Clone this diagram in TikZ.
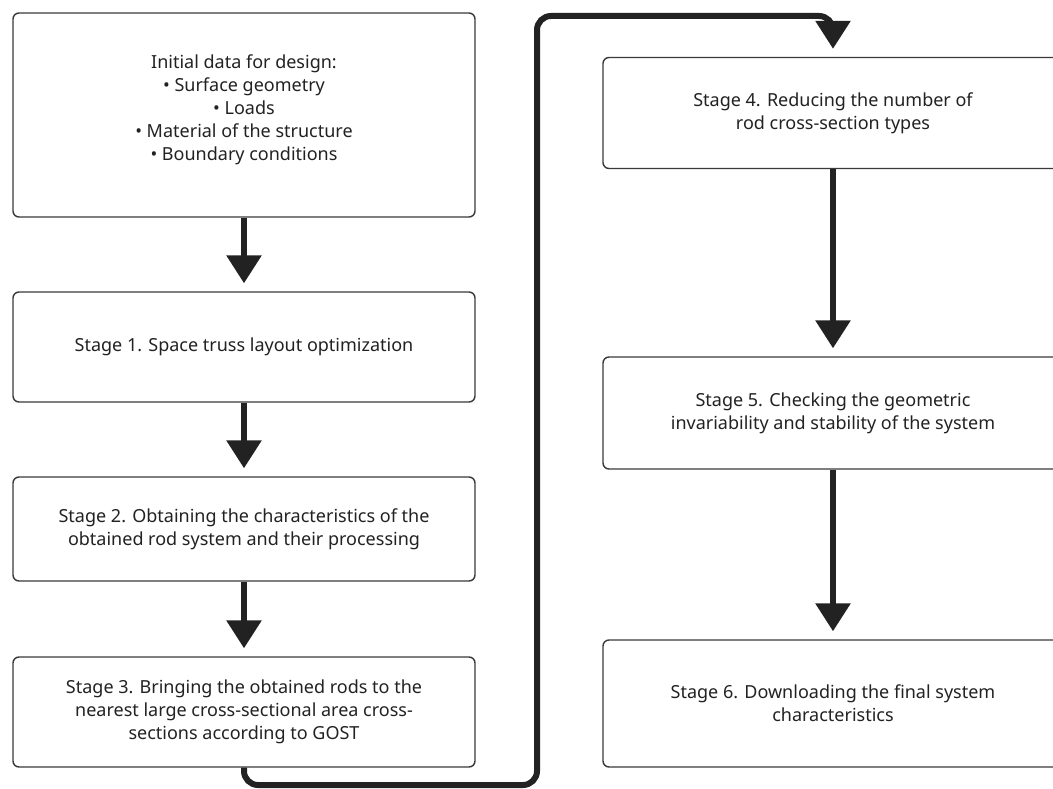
\documentclass[tikz,border=0pt]{standalone}
\usepackage{fontspec}
\setmainfont{Noto Sans}
\usetikzlibrary{arrows.meta}
\definecolor{ink}{HTML}{222222}
\definecolor{edge}{HTML}{3A3A3A}
\tikzset{
  box/.style={draw=edge, line width=1.4pt, rounded corners=6pt, fill=white,
    minimum width=462pt, align=center, text=ink, font=\fontsize{18}{23}\selectfont, inner sep=0pt},
  flow/.style={draw=ink, line width=6pt, -{Triangle[width=34pt,length=28pt]}, shorten >=8pt},
}
\begin{document}
\begin{tikzpicture}[x=1pt,y=-1pt]
\useasboundingbox (0,0) rectangle (1053,789);
% left column
\node[box, minimum height=204pt] (b0) at (244,115) {Initial data for design:\\ • Surface geometry\\ • Loads\\ • Material of the structure\\ • Boundary conditions\\[-9pt]};
\node[box, minimum height=110pt] (b1) at (244,347) {Stage 1. Space truss layout optimization};
\node[box, minimum height=104pt] (b2) at (244,529) {Stage 2. Obtaining the characteristics of the\\ obtained rod system and their processing};
\node[box, minimum height=110pt] (b3) at (244,712) {Stage 3. Bringing the obtained rods to the\\ nearest large cross-sectional area cross-\\ sections according to GOST};
% right column
\node[box, minimum width=460pt, minimum height=111pt] (b4) at (833,113) {Stage 4. Reducing the number of\\ rod cross-section types};
\node[box, minimum width=460pt, minimum height=112pt] (b5) at (833,413) {Stage 5. Checking the geometric\\ invariability and stability of the system};
\node[box, minimum width=460pt, minimum height=127pt] (b6) at (833,703.5) {Stage 6. Downloading the final system\\ characteristics};
% connectors
\draw[flow] (b0) -- (b1);
\draw[flow] (b1) -- (b2);
\draw[flow] (b2) -- (b3);
\draw[flow] (b4) -- (b5);
\draw[flow] (b5) -- (b6);
\coordinate (c1) at (244,785);
\coordinate (c2) at (537,785);
\coordinate (c3) at (537,16);
\coordinate (c4) at (833,16);
\draw[flow, rounded corners=14pt] (b3.south) -- (c1) -- (c2) -- (c3) -- (c4) -- (b4.north);
\end{tikzpicture}
\end{document}
